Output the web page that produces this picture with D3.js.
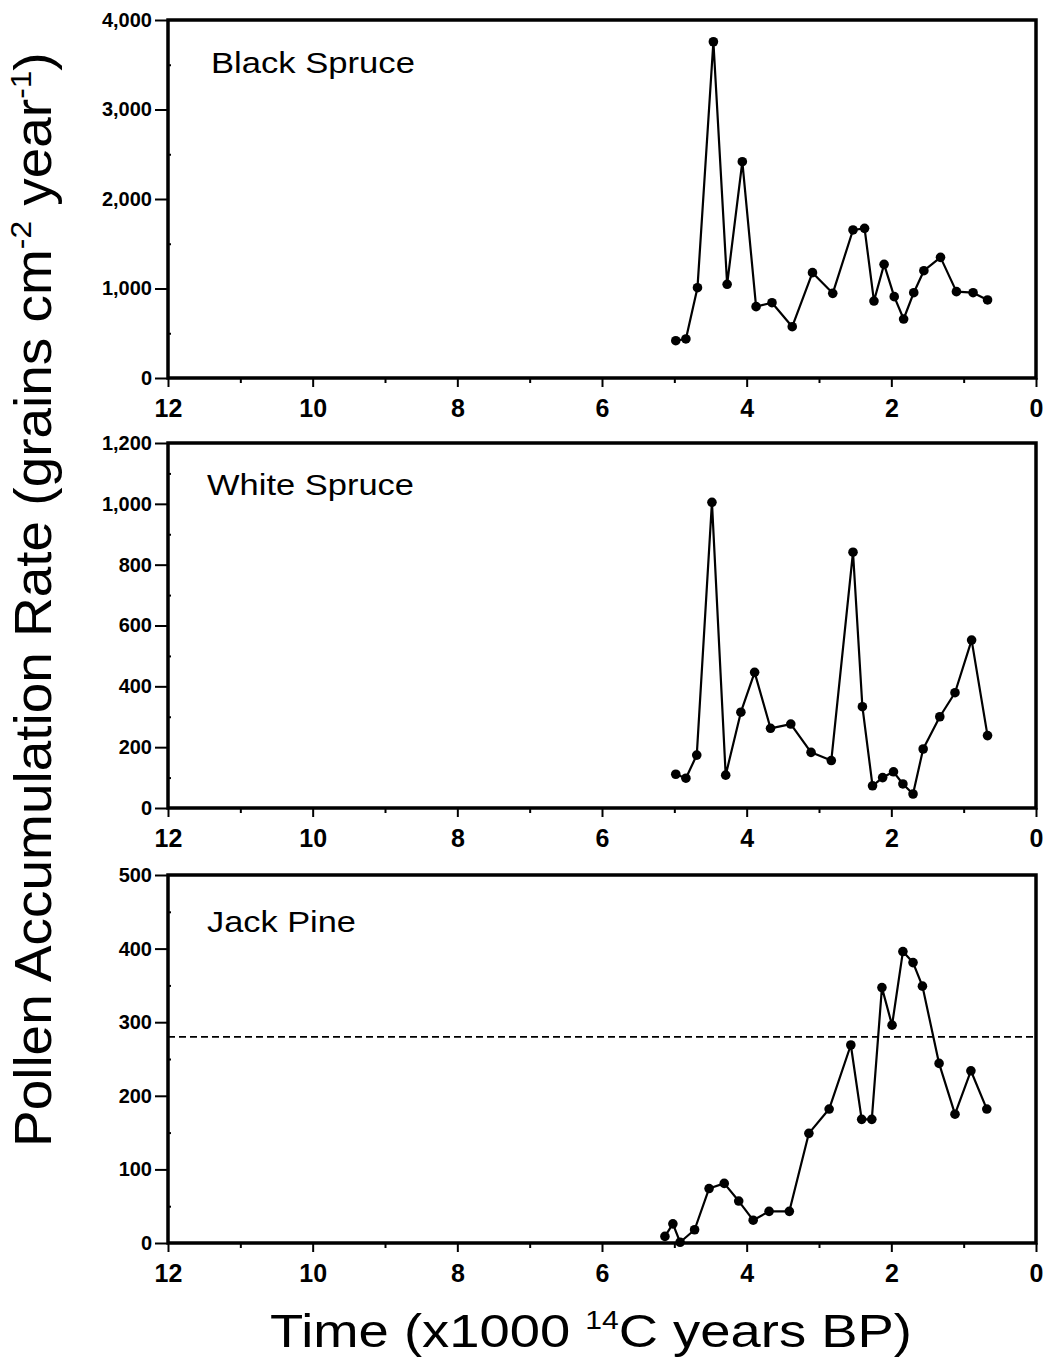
<!DOCTYPE html>
<html><head><meta charset="utf-8">
<script src="https://cdn.jsdelivr.net/npm/d3@7"></script>
<style>body{margin:0;background:#fff} svg{display:block;font-family:"Liberation Sans",Arial,Helvetica,sans-serif}</style>
</head><body>
<svg id="chart" width="1050" height="1366"></svg>
<script>
// ---------------- data ----------------
const timeTicks = [12, 10, 8, 6, 4, 2, 0];
const timeMinorTicks = [11, 9, 7, 5, 3, 1];

const blackSpruceTime = [4.98,4.84,4.68,4.46,4.27,4.06,3.87,3.65,3.37,3.09,2.81,2.53,2.37,2.24,2.10,1.96,1.83,1.69,1.55,1.32,1.10,0.87,0.67];
const blackSpruceRate = [417,436,1009,3757,1047,2417,797,841,573,1177,946,1654,1672,860,1270,909,659,953,1199,1348,965,953,872];

const whiteSpruceTime = [4.98,4.84,4.69,4.48,4.29,4.08,3.89,3.67,3.39,3.11,2.83,2.53,2.40,2.26,2.12,1.97,1.84,1.70,1.56,1.33,1.12,0.89,0.67];
const whiteSpruceRate = [111,98,174,1005,108,315,446,262,276,183,156,841,333,73,100,119,79,46,194,300,379,552,238];

const jackPineTime = [5.13,5.02,4.92,4.72,4.52,4.31,4.11,3.91,3.69,3.41,3.14,2.86,2.56,2.41,2.27,2.13,1.99,1.84,1.70,1.57,1.34,1.12,0.90,0.68];
const jackPineRate = [9,26,1,18,74,81,57,31,43,43,149,182,269,168,168,347,296,396,381,349,244,175,234,182];
const jackPineThreshold = 280;

const blackSpruceTicks = [0, 1000, 2000, 3000, 4000];
const blackSpruceMinor = [500, 1500, 2500, 3500];
const whiteSpruceTicks = [0, 200, 400, 600, 800, 1000, 1200];
const whiteSpruceMinor = [100, 300, 500, 700, 900, 1100];
const jackPineTicks = [0, 100, 200, 300, 400, 500];
const jackPineMinor = [50, 150, 250, 350, 450];

const panelTitles = ["Black Spruce", "White Spruce", "Jack Pine"];

// ---------------- drawing ----------------
const svg = d3.select("#chart");
const X0 = 168, X1 = 1036;
const x = d3.scaleLinear().domain([12, 0]).range([X0, X1]);

const panels = [
  {title: panelTitles[0], t: blackSpruceTime, v: blackSpruceRate, ticks: blackSpruceTicks, minor: blackSpruceMinor,
   top: 20, bottom: 378, titleX: 211, titleY: 73, titleW: 204},
  {title: panelTitles[1], t: whiteSpruceTime, v: whiteSpruceRate, ticks: whiteSpruceTicks, minor: whiteSpruceMinor,
   top: 443, bottom: 808, titleX: 207, titleY: 495, titleW: 207},
  {title: panelTitles[2], t: jackPineTime, v: jackPineRate, ticks: jackPineTicks, minor: jackPineMinor,
   top: 875, bottom: 1243, titleX: 207, titleY: 932, titleW: 149, ref: jackPineThreshold}
];

function fitText(sel, target) {
  const w = sel.node().getComputedTextLength();
  return target / w;
}

panels.forEach(p => {
  const y = d3.scaleLinear()
    .domain([p.ticks[0], p.ticks[p.ticks.length - 1]])
    .range([p.bottom, p.top]);
  const g = svg.append("g");

  // minor y ticks
  g.append("g").attr("transform", `translate(${X0},0)`)
    .call(d3.axisLeft(y).tickValues(p.minor).tickSize(7).tickFormat(""))
    .call(a => a.select(".domain").remove())
    .call(a => a.selectAll("line").attr("stroke", "#000").attr("stroke-width", 2).attr("x2", 3));
  // major y ticks
  g.append("g").attr("transform", `translate(${X0},0)`)
    .call(d3.axisLeft(y).tickValues(p.ticks).tickSize(13).tickPadding(3).tickFormat(d3.format(",")))
    .call(a => a.select(".domain").remove())
    .call(a => a.selectAll("line").attr("stroke", "#000").attr("stroke-width", 2))
    .call(a => a.selectAll("text").attr("font-size", 20).attr("font-weight", "bold")
      .attr("fill", "#000").attr("font-family", "Liberation Sans, Arial, sans-serif"));

  // x ticks
  g.append("g").attr("transform", `translate(0,${p.bottom})`)
    .call(d3.axisBottom(x).tickValues(timeMinorTicks).tickSize(5).tickFormat(""))
    .call(a => a.select(".domain").remove())
    .call(a => a.selectAll("line").attr("stroke", "#000").attr("stroke-width", 2));
  g.append("g").attr("transform", `translate(0,${p.bottom})`)
    .call(d3.axisBottom(x).tickValues(timeTicks).tickSize(9).tickFormat(d3.format("d")))
    .call(a => a.select(".domain").remove())
    .call(a => a.selectAll("line").attr("stroke", "#000").attr("stroke-width", 2))
    .call(a => a.selectAll("text").attr("y", 39).attr("dy", null)
      .attr("font-size", 25).attr("font-weight", "bold").attr("fill", "#000")
      .attr("font-family", "Liberation Sans, Arial, sans-serif"));

  // frame
  g.append("rect").attr("x", X0).attr("y", p.top)
    .attr("width", X1 - X0).attr("height", p.bottom - p.top)
    .attr("fill", "none").attr("stroke", "#000").attr("stroke-width", 3.5);

  // reference dashed line
  if (p.ref !== undefined) {
    g.append("line").attr("x1", X0).attr("x2", X1)
      .attr("y1", y(p.ref)).attr("y2", y(p.ref))
      .attr("stroke", "#000").attr("stroke-width", 1.6).attr("stroke-dasharray", "7,4");
  }

  const data = p.t.map((t, i) => ({t, v: p.v[i]}));
  g.append("path").datum(data)
    .attr("fill", "none").attr("stroke", "#000").attr("stroke-width", 2.2)
    .attr("stroke-linejoin", "round")
    .attr("d", d3.line().x(d => x(d.t)).y(d => y(d.v)));
  g.selectAll("circle").data(data).enter().append("circle")
    .attr("cx", d => x(d.t)).attr("cy", d => y(d.v)).attr("r", 4.8).attr("fill", "#000");

  // title
  const tt = g.append("text").attr("x", 0).attr("y", 0)
    .attr("font-size", 29).attr("fill", "#000").text(p.title);
  const s = fitText(tt, p.titleW);
  tt.attr("transform", `translate(${p.titleX},${p.titleY}) scale(${s},1)`);
});

// y-axis title
const yt = svg.append("text").attr("x", 0).attr("y", 0).attr("font-size", 52).attr("fill", "#000");
yt.append("tspan").text("Pollen Accumulation Rate (grains cm");
yt.append("tspan").attr("font-size", 30).attr("dy", -20).text("-2");
yt.append("tspan").attr("dy", 20).text(" year");
yt.append("tspan").attr("font-size", 30).attr("dy", -20).text("-1");
yt.append("tspan").attr("dy", 20).text(")");
const ys = fitText(yt, 1095);
yt.attr("transform", `translate(51,1147) rotate(-90) scale(${ys},1)`);

// x-axis title
const xt = svg.append("text").attr("x", 0).attr("y", 0).attr("font-size", 47).attr("fill", "#000");
xt.append("tspan").text("Time (x1000 ");
xt.append("tspan").attr("font-size", 26).attr("dy", -18).text("14");
xt.append("tspan").attr("dy", 18).text("C years BP)");
const xs = fitText(xt, 642);
xt.attr("transform", `translate(270,1347) scale(${xs},1)`);
</script>
</body></html>
